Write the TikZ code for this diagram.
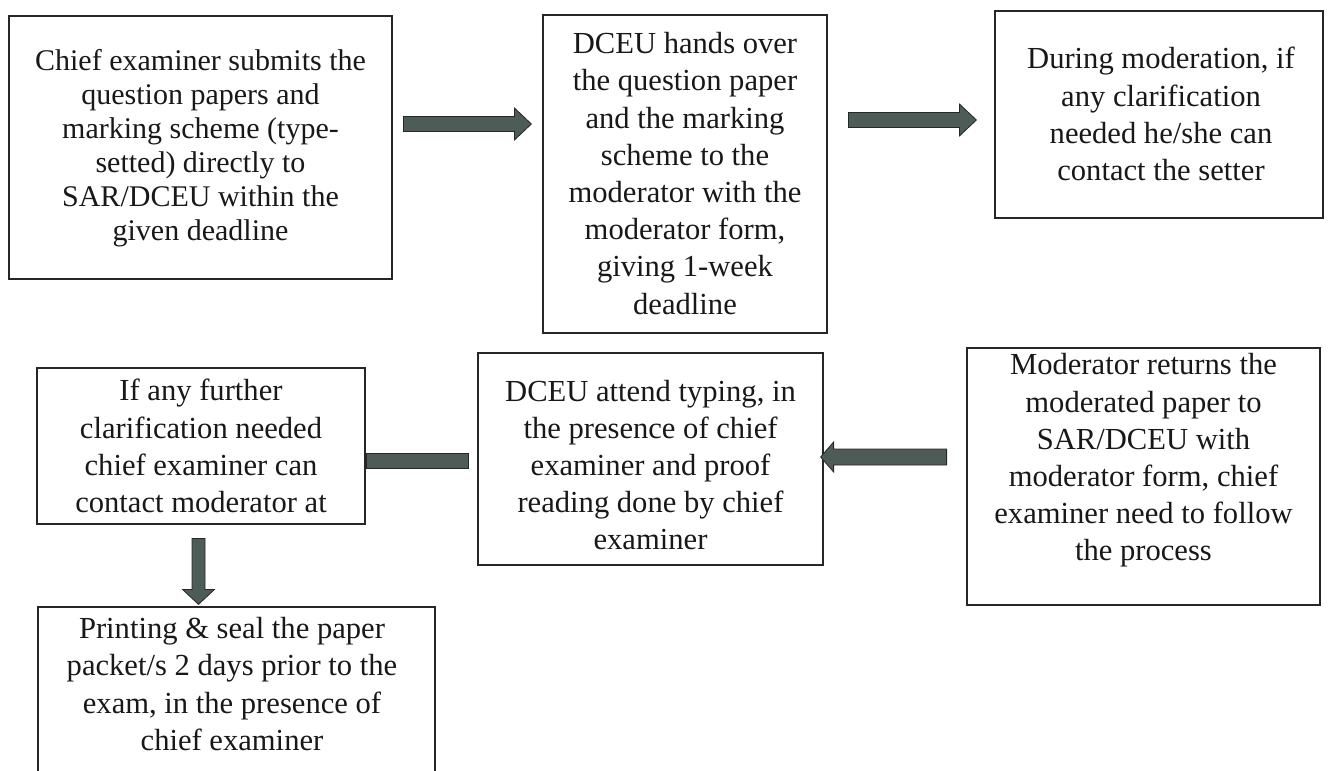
\documentclass[tikz,border=0pt]{standalone}
\usepackage{fontspec}
\setmainfont{Liberation Serif}
\usetikzlibrary{calc,fit}

\definecolor{boxline}{RGB}{38,38,38}
\definecolor{textcol}{RGB}{24,24,24}
\definecolor{arrowfill}{RGB}{78,92,88}

\begin{document}
\begin{tikzpicture}[x=0.5pt,y=-0.5pt,
  box/.style={draw=boxline, line width=1.4pt, rectangle, inner sep=0pt},
  txt/.style={align=center, text=textcol, inner sep=0pt},
  fsmall/.style={font=\fontsize{15}{17}\selectfont},
  fbig/.style={font=\fontsize{15.3}{18.6}\selectfont},
  arrowbody/.style={fill=arrowfill, draw=black!85, line width=0.4pt, line join=miter}]
\clip (0,0) rectangle (1330,771);
\useasboundingbox (0,0) rectangle (1330,771);

% process boxes
\node[box, fit={(9,16) (392,279)}]    (b1) {};
\node[box, fit={(543,15) (827,333)}]  (b2) {};
\node[box, fit={(995,11) (1323,218)}] (b3) {};
\node[box, fit={(37,368) (365,524)}]  (b4) {};
\node[box, fit={(478,353) (823,565)}] (b5) {};
\node[box, fit={(967,348) (1320,605)}] (b6) {};
\node[box, fit={(38,607) (435,790)}]  (b7) {};

% box texts
\node[txt, fsmall] (t1) at (200.5,148) {Chief examiner submits the\\question papers and\\marking scheme (type-\\setted) directly to\\SAR/DCEU within the\\given deadline};
\node[txt, fbig] (t2) at (685,173.5) {DCEU hands over\\the question paper\\and the marking\\scheme to the\\moderator with the\\moderator form,\\giving 1-week\\deadline};
\node[txt, fbig] (t3) at (1161,114) {During moderation, if\\any clarification\\needed he/she can\\contact the setter};
\node[txt, fbig] (t4) at (201,446) {If any further\\clarification needed\\chief examiner can\\contact moderator at};
\node[txt, fbig] (t5) at (650.5,465) {DCEU attend typing, in\\the presence of chief\\examiner and proof\\reading done by chief\\examiner};
\node[txt, fbig] (t6) at (1143.5,460.5) {Moderator returns the\\moderated paper to\\SAR/DCEU with\\moderator form, chief\\examiner need to follow\\the process};
\node[txt, fbig] (t7) at (232,684) {Printing \& seal the paper\\packet/s 2 days prior to the\\exam, in the presence of\\chief examiner};

% block arrows between the boxes
\coordinate (a1) at ($(b1.east)+(10,-23.5)$);
\filldraw[arrowbody] (a1) ++(0,-7.5) -- ++(111,0) -- ++(0,-8.5) -- ++(17,16) -- ++(-17,16) -- ++(0,-8.5) -- ++(-111,0) -- cycle;

\coordinate (a2) at ($(b2.east)+(20,-54)$);
\filldraw[arrowbody] (a2) ++(0,-7.5) -- ++(111,0) -- ++(0,-8.5) -- ++(17,16) -- ++(-17,16) -- ++(0,-8.5) -- ++(-111,0) -- cycle;

\coordinate (a3) at ($(b6.west)+(-19,-19.5)$);
\filldraw[arrowbody] (a3) ++(0,-8) -- ++(-113,0) -- ++(0,-7) -- ++(-13,15) -- ++(13,15) -- ++(0,-7) -- ++(113,0) -- cycle;

% plain bar joining the lower boxes
\filldraw[arrowbody] ($(b4.east)+(0,7)$) rectangle ($(b5.west)+(-8,9)$);

\coordinate (a4) at ($(b4.south)+(-2.5,13)$);
\filldraw[arrowbody] (a4) ++(-6.5,0) -- ++(0,51) -- ++(-9.5,0) -- ++(16,15) -- ++(16,-15) -- ++(-9.5,0) -- ++(0,-51) -- cycle;
\end{tikzpicture}
\end{document}
